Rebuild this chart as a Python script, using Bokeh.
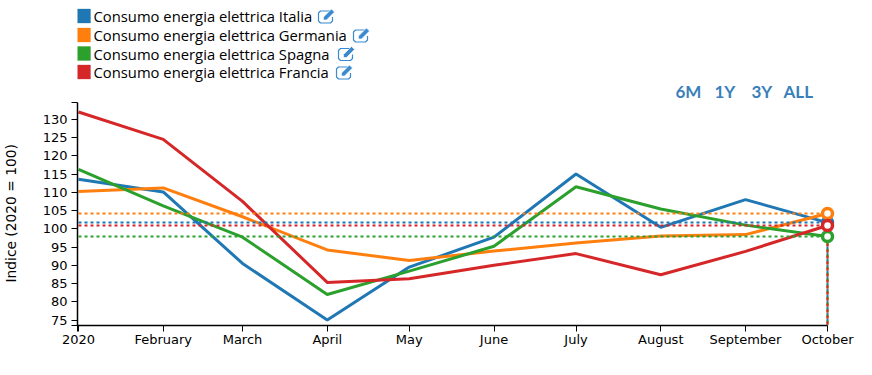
from datetime import datetime
from bokeh.plotting import figure
from bokeh.models import Range1d, FixedTicker, Title
from bokeh.core.properties import value
from bokeh.embed import file_html
from bokeh.resources import INLINE

dates = [datetime(2020, m, 1) for m in range(1, 11)]
month_labels = ["2020", "February", "March", "April", "May", "June", "July", "August", "September", "October"]
italia = [113.6, 110.1, 90.5, 75.0, 89.5, 97.7, 115.0, 100.4, 108.0, 101.7]
germania = [110.2, 111.2, 103.3, 94.2, 91.3, 93.9, 96.1, 98.0, 98.4, 104.2]
spagna = [116.3, 106.3, 97.7, 82.0, 88.4, 95.2, 111.5, 105.4, 101.0, 97.9]
francia = [132.0, 124.5, 107.5, 85.3, 86.3, 90.0, 93.2, 87.4, 93.8, 100.9]
names = ["Consumo energia elettrica Italia", "Consumo energia elettrica Germania",
         "Consumo energia elettrica Spagna", "Consumo energia elettrica Francia"]
series = [italia, germania, spagna, francia]
colors = ["#1f77b4", "#ff7f0e", "#2ca02c", "#d62728"]
y_ticks = list(range(75, 135, 5))
buttons = ["6M", "1Y", "3Y", "ALL"]
Y_MIN, Y_MAX = 73.5, 134.6

# page pixels of the plot area
PX_L, PX_R, PX_T, PX_B = 77.0, 827.0, 102.0, 325.0
CANVAS_W, CANVAS_H = 872.0, 375.0
BOTTOM = CANVAS_H - PX_B

DAY = 86400000.0
def ms(d):
    return (d - datetime(1970, 1, 1)).total_seconds() * 1000.0
x_ms = [ms(d) for d in dates]
x0 = x_ms[0] - 0.366 * DAY
xk = (x_ms[-1] - x0) / (PX_R - PX_L)
yk = (Y_MAX - Y_MIN) / (PX_B - PX_T)
def X(px):
    return x0 + (px - PX_L) * xk
def Y(py):
    return Y_MIN + (PX_B - py) * yk

p = figure(width=872, height=375, x_axis_type="datetime", output_backend="svg", toolbar_location=None,
           x_range=Range1d(x0, X(CANVAS_W)), y_range=Range1d(Y_MIN, Y(0)),
           min_border_left=int(PX_L), min_border_right=0, min_border_top=0, min_border_bottom=int(BOTTOM))
p.outline_line_color = None
p.grid.visible = False

p.xaxis.ticker = FixedTicker(ticks=x_ms + [x0])
overrides = {t: l for t, l in zip(x_ms, month_labels)}
overrides[x0] = ""
p.xaxis.major_label_overrides = overrides
p.xaxis.bounds = (x0, x_ms[-1])
p.yaxis.ticker = FixedTicker(ticks=[Y_MIN] + y_ticks + [Y_MAX])
p.yaxis.major_label_overrides = {Y_MIN: "", Y_MAX: "", **{v: str(v) for v in y_ticks}}
p.yaxis.bounds = (Y_MIN, Y_MAX)
for ax in (p.xaxis[0], p.yaxis[0]):
    ax.minor_tick_line_color = None
    ax.axis_line_color = "#000000"
    ax.axis_line_width = 1.5
    ax.major_tick_line_color = "#000000"
    ax.major_tick_in = 0
    ax.major_tick_out = 6
    ax.major_label_text_font = "DejaVu Sans"
    ax.major_label_text_font_size = "13px"
    ax.major_label_text_color = "#000000"
p.xaxis.major_label_standoff = 0
p.yaxis.major_label_standoff = 4

for vals, c in zip(series, colors):
    p.line(x_ms, vals, line_color=c, line_width=3)
for vals, c in zip(series, colors):
    p.line([x_ms[0], x_ms[-1]], [vals[-1], vals[-1]], line_color=c, line_width=2, line_dash="3 3")
for vals, c in zip(series, colors):
    p.line([x_ms[-1], x_ms[-1]], [vals[-1], Y_MIN], line_color=c, line_width=2, line_dash="3 3")
for vals, c in zip(series, colors):
    p.scatter([x_ms[-1]], [vals[-1]], size=10, fill_color="#ffffff", line_color=c, line_width=3.5)

# legend
legend_y = [15.5, 34.5, 53, 71.5]
icon_x = [318, 353, 338, 336]
for name, c, yc, ix in zip(names, colors, legend_y, icon_x):
    p.quad(left=[X(76)], right=[X(90)], top=[Y(yc - 7)], bottom=[Y(yc + 7)],
           fill_color=c, line_color=c, line_alpha=0.3)
    p.text([X(93)], [Y(yc)], text=[name], text_font=value("Open Sans"), text_font_size="14.8px",
           text_color="#000000", text_baseline="middle", text_align="left")
    p.line([X(ix + 12), X(ix + 2), X(ix), X(ix), X(ix + 2), X(ix + 12), X(ix + 14), X(ix + 14)],
           [Y(yc - 5), Y(yc - 5), Y(yc - 3), Y(yc + 5), Y(yc + 7), Y(yc + 7), Y(yc + 5), Y(yc + 1)],
           line_color="#3b8ad0", line_width=1.2)
    p.patch([X(ix + 5), X(ix + 13), X(ix + 16), X(ix + 8), X(ix + 5)],
            [Y(yc + 1), Y(yc - 7), Y(yc - 4), Y(yc + 4), Y(yc + 4)],
            fill_color="#3b8ad0", line_color="#ffffff", line_width=0.6)

# range buttons
for txt, bx in zip(buttons, [675, 714, 751, 783]):
    p.text([X(bx)], [Y(91)], text=[txt], text_font=value("Lato"), text_font_size="17px",
           text_font_style="bold", text_color="#3a7fba", text_baseline="middle", text_align="left")

# y axis title, pushed outward by an empty spacer title
p.add_layout(Title(text=" ", standoff=18, text_font_size="1px"), "left")
p.add_layout(Title(text="Indice (2020 = 100)", align="left", offset=43, standoff=0,
                   text_font="DejaVu Sans", text_font_size="13.8px", text_font_style="normal",
                   text_color="#000000"), "left")

open("out.html", "w").write(file_html(p, INLINE))
